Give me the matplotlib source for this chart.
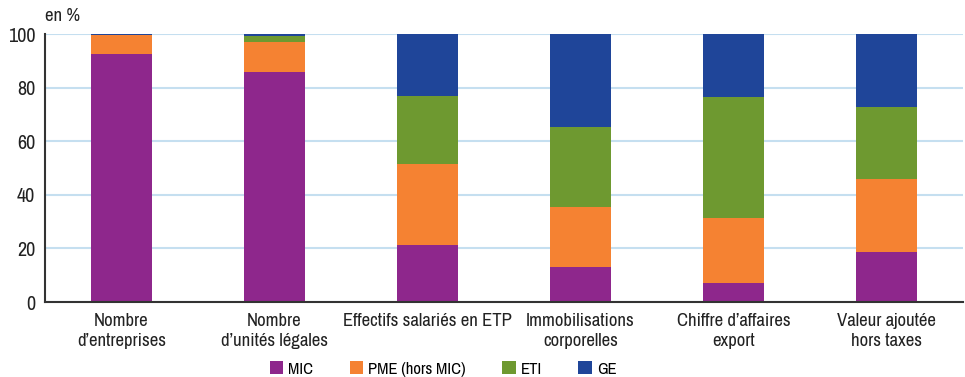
import matplotlib
matplotlib.use("Agg")
import matplotlib.pyplot as plt
from matplotlib.patches import Patch
from matplotlib import font_manager
import numpy as np

categories = ["Nombre\nd\u2019entreprises", "Nombre\nd\u2019unit\u00e9s l\u00e9gales",
              "Effectifs salari\u00e9s en ETP", "Immobilisations\ncorporelles",
              "Chiffre d\u2019affaires\nexport", "Valeur ajout\u00e9e\nhors taxes"]
series_names = ["MIC", "PME (hors MIC)", "ETI", "GE"]
mic = [92.4, 85.7, 21.3, 13.2, 7.2, 18.7]
pme = [7.2, 11.2, 30.2, 22.3, 24.2, 27.2]
eti = [0.1, 2.4, 25.3, 29.8, 45.0, 26.8]
ge = [0.3, 0.7, 23.2, 34.7, 23.6, 27.3]
yticks = [0, 20, 40, 60, 80, 100]
colors = ["#8E278C", "#F58232", "#6E9930", "#1F4599"]

# choose a narrow font if available
names = sorted({f.name for f in font_manager.fontManager.ttflist})
narrow = [n for n in names if "Narrow" in n or "Condensed" in n]
if narrow:
    fam = [narrow[0], "DejaVu Sans"]
    size = 13.5
else:
    fam = ["Roboto", "DejaVu Sans"]
    size = 11.5

plt.rcParams['font.family'] = fam

fig = plt.figure(figsize=(9.65, 3.77), dpi=100)
ax = fig.add_axes([45/965, 1 - 302/377, 918/965, 268/377])

x = np.arange(len(categories))
bottom = np.zeros(len(categories))
for vals, c in zip([mic, pme, eti, ge], colors):
    ax.bar(x, vals, width=0.4, bottom=bottom, color=c, zorder=3)
    bottom += np.array(vals)

ax.set_xlim(-0.5, len(categories) - 0.5)
ax.set_ylim(0, 100)
ax.set_yticks(yticks)
ax.set_yticklabels([str(v) for v in yticks], fontsize=size + 1, color="#222222")
ax.set_xticks(x)
ax.set_xticklabels(categories, fontsize=size, color="#222222", linespacing=1.3)
ax.tick_params(axis='both', length=0, pad=7)
ax.tick_params(axis='x', pad=8)
ax.grid(axis='y', color="#C5DFF0", linewidth=1.5, zorder=0)
for s in ["top", "right"]:
    ax.spines[s].set_visible(False)
for s in ["left", "bottom"]:
    ax.spines[s].set_color("#333333")
    ax.spines[s].set_linewidth(1.5)
    ax.spines[s].set_zorder(4)

fig.text(45/965, 1 - 16/377, "en %", fontsize=size, color="#222222", va="center", ha="left")

handles = [Patch(facecolor=c, label=n) for c, n in zip(colors, series_names)]
fig.legend(handles=handles, loc="center", bbox_to_anchor=(443/965, 1 - 369/377),
           ncol=4, frameon=False, fontsize=size - 1.5, handlelength=0.8, handleheight=0.8,
           handletextpad=0.3, columnspacing=2.2)

fig.savefig("out.png", dpi=100)
